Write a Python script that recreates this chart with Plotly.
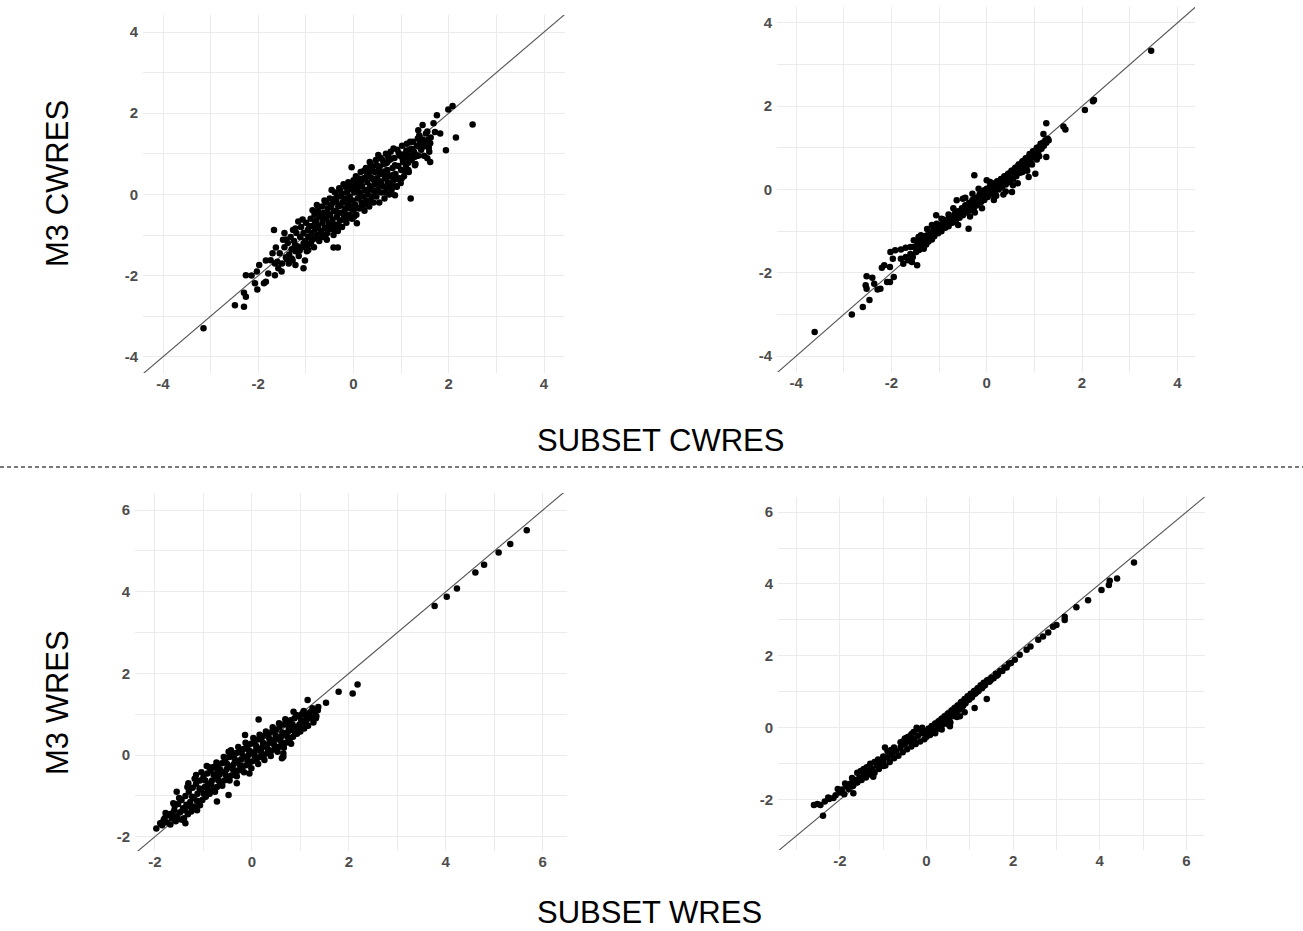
import plotly.graph_objects as go

# ---- data: (SUBSET residual, M3 residual) pairs per panel ----
cwres_left = [
    (-3.15, -3.30), (-2.49, -2.73), (-2.30, -2.77), (-2.26, -2.52), (-2.30, -2.42),
    (-2.02, -2.34), (-2.07, -2.19), (-2.26, -1.99), (-2.14, -2.00), (-2.03, -1.90),
    (-1.88, -2.19), (-1.84, -2.15), (-1.79, -1.95), (-1.98, -1.74), (-1.84, -1.63),
    (-1.74, -1.62), (-1.65, -1.99), (-1.58, -1.82), (-1.51, -1.90), (-1.60, -1.66),
    (-1.67, -0.88), (-1.63, -1.31), (-1.42, -1.11), (-1.40, -1.60), (-1.30, -1.58),
    (-1.22, -1.74), (-1.05, -1.82), (-1.02, -1.63), (-1.22, -0.84), (-1.16, -0.67),
    (-1.23, -1.25), (-1.05, -1.21), (-0.95, -1.37), (-0.86, -0.39), (-0.77, -0.26),
    (-0.70, -0.47), (-0.42, -1.31), (-0.33, -1.31), (-0.70, -1.04), (-0.56, -1.12),
    (-0.46, 0.11), (-0.28, 0.11), (-0.04, 0.67), (0.07, -0.71), (0.10, 0.23),
    (0.34, 0.80), (0.52, 0.97), (0.55, 0.68), (0.73, 0.93), (0.84, 1.13),
    (0.80, 0.11), (0.91, 0.19), (0.87, -0.02), (1.01, 0.39), (1.15, 0.60),
    (1.20, -0.10), (1.19, 1.30), (1.29, 0.93), (1.29, 0.72), (1.36, 1.58),
    (1.45, 1.71), (1.52, 1.50), (1.55, 0.89), (1.61, 0.80), (1.59, 1.05),
    (1.68, 1.75), (1.71, 1.54), (1.75, 1.95), (1.82, 1.50), (1.94, 1.09),
    (1.99, 2.09), (2.08, 2.18), (2.15, 1.40), (2.50, 1.72), (1.50, 1.30),
    (1.39, 1.17), (1.61, 1.26),
    (-1.55, -1.45), (-1.50, -1.70), (-1.45, -1.30), (-1.42, -1.55), (-1.38, -1.20),
    (-1.35, -1.48), (-1.32, -1.05), (-1.30, -1.35), (-1.28, -1.62), (-1.25, -1.15),
    (-1.22, -1.40), (-1.20, -0.95), (-1.18, -1.28), (-1.15, -1.52),
    (-1.12, -1.05), (-1.10, -0.80), (-1.08, -1.30), (-1.05, -0.95), (-1.02, -1.15),
    (-1.00, -0.70), (-0.98, -1.40), (-0.96, -0.88), (-0.95, -1.05), (-0.92, -1.22),
    (-0.90, -0.60), (-0.88, -0.95), (-0.86, -0.78), (-0.85, -1.10), (-0.83, -1.30),
    (-0.82, -0.50), (-0.80, -0.85),
    (-0.78, -0.65), (-0.77, -1.00), (-0.75, -0.40), (-0.74, -0.78), (-0.72, -1.15),
    (-0.70, -0.55), (-0.68, -0.90), (-0.66, -0.30), (-0.65, -0.70), (-0.63, -1.05),
    (-0.62, -0.45), (-0.60, -0.82), (-0.58, -0.20), (-0.57, -0.60), (-0.55, -0.95),
    (-0.54, -0.35), (-0.52, -0.72), (-0.50, -0.10), (-0.49, -0.50), (-0.47, -0.85),
    (-0.46, -0.25), (-0.44, -0.62), (-0.42, -1.00), (-0.41, -0.40),
    (-0.39, 0.05), (-0.38, -0.75), (-0.36, -0.18), (-0.35, -0.55), (-0.33, -0.90),
    (-0.32, -0.30), (-0.30, 0.15), (-0.29, -0.65), (-0.27, -0.05), (-0.26, -0.45),
    (-0.24, -0.80), (-0.23, -0.20), (-0.21, 0.25), (-0.20, -0.55), (-0.18, -0.10),
    (-0.17, -0.35), (-0.15, -0.70), (-0.14, 0.05), (-0.12, -0.25), (-0.11, 0.30),
    (-0.09, -0.50), (-0.08, -0.05), (-0.06, -0.35), (-0.05, 0.15), (-0.03, -0.60),
    (-0.02, -0.15), (0.00, 0.35), (0.00, -0.40),
    (0.02, 0.05), (0.03, -0.25), (0.05, 0.45), (0.06, -0.50), (0.08, 0.15),
    (0.09, -0.10), (0.11, 0.30), (0.12, -0.35), (0.14, 0.05), (0.15, 0.55),
    (0.17, -0.20), (0.18, 0.20), (0.20, -0.05), (0.21, 0.40), (0.23, -0.40),
    (0.24, 0.10), (0.26, 0.65), (0.27, -0.15), (0.29, 0.30), (0.30, 0.00),
    (0.32, 0.50), (0.33, -0.30), (0.35, 0.20), (0.36, 0.75), (0.38, -0.05),
    (0.39, 0.40),
    (0.41, 0.10), (0.42, -0.20), (0.44, 0.55), (0.45, 0.25), (0.47, 0.85),
    (0.48, -0.05), (0.50, 0.40), (0.51, 0.10), (0.53, 0.65), (0.54, -0.20),
    (0.56, 0.30), (0.57, 0.90), (0.59, 0.05), (0.60, 0.50), (0.62, 0.20),
    (0.63, 0.75), (0.65, -0.10), (0.66, 0.40), (0.68, 1.00), (0.69, 0.15),
    (0.71, 0.60), (0.72, 0.30), (0.74, 0.85), (0.75, 0.00), (0.77, 0.45),
    (0.78, 1.05), (0.80, 0.25),
    (0.82, 0.65), (0.84, 0.35), (0.86, 0.90), (0.88, 0.50), (0.90, 0.20),
    (0.92, 1.10), (0.94, 0.70), (0.96, 0.40), (0.98, 0.95), (1.00, 0.60),
    (1.02, 1.20), (1.04, 0.80), (1.06, 0.45), (1.08, 1.00), (1.10, 0.70),
    (1.12, 1.25), (1.14, 0.90), (1.16, 0.55), (1.18, 1.10),
    (1.22, 0.85), (1.25, 1.30), (1.27, 1.05), (1.30, 0.75), (1.33, 1.20),
    (1.36, 0.95), (1.38, 1.45), (1.42, 1.10), (1.45, 1.35), (1.48, 0.95),
    (1.52, 1.25), (1.55, 1.55), (1.58, 1.15), (1.62, 1.40),
    (-1.48, -1.12), (-1.36, -1.70), (-1.27, -0.88), (-1.13, -1.38), (-1.07, -0.62),
    (-0.99, -1.25), (-0.93, -0.78), (-0.89, -1.18), (-0.81, -0.68), (-0.79, -1.08),
    (-0.73, -0.52), (-0.69, -0.97), (-0.64, -0.58), (-0.61, -0.15), (-0.59, -1.02),
    (-0.53, -0.48), (-0.51, -0.82), (-0.48, -0.30), (-0.45, -0.70), (-0.43, -0.12),
    (-0.40, -0.88), (-0.37, -0.42), (-0.34, -0.05), (-0.31, -0.78), (-0.28, -0.28),
    (-0.25, 0.02), (-0.22, -0.62), (-0.19, -0.42), (-0.16, 0.18), (-0.13, -0.58),
    (-0.10, -0.12), (-0.07, 0.22), (-0.04, -0.30), (-0.01, 0.10), (0.01, -0.55),
    (0.04, 0.25), (0.07, -0.32), (0.10, 0.40), (0.13, -0.05), (0.16, 0.32),
    (0.19, -0.28), (0.22, 0.58), (0.25, -0.25), (0.28, 0.45), (0.31, 0.12),
    (0.34, 0.62), (0.37, -0.18), (0.40, 0.68), (0.43, 0.35), (0.46, 0.02),
    (0.49, 0.72), (0.52, 0.22), (0.55, 0.52), (0.58, 0.32), (0.61, 0.85),
    (0.64, 0.55), (0.67, 0.05), (0.70, 0.78), (0.73, 0.48), (0.76, 0.18),
    (0.79, 0.88), (0.83, 0.48), (0.87, 0.72), (0.91, 0.38), (0.95, 1.02),
    (0.99, 0.28), (1.03, 0.88), (1.07, 0.58), (1.11, 1.08), (1.15, 0.78),
    (1.19, 0.95), (1.23, 1.12), (1.31, 0.98), (1.40, 1.28), (1.47, 1.18),
    (1.35, 1.38), (1.57, 1.35), (-1.70, -1.45), (-1.65, -1.70), (-1.45, -0.95),
]

cwres_right = [
    (3.45, 3.33), (2.23, 2.12), (2.25, 2.15), (2.06, 1.91), (1.61, 1.51),
    (1.65, 1.44), (1.25, 1.59), (1.19, 1.33), (1.25, 0.78), (1.02, 0.38),
    (0.88, 0.30), (0.77, 0.46), (0.53, -0.06), (-0.26, 0.34), (-0.38, -0.94),
    (-0.63, -0.26), (-0.50, -0.22), (-1.06, -0.62), (-1.05, -0.82), (-0.91, -0.72),
    (-1.11, -0.94), (-1.43, -1.14), (-1.32, -1.12), (-1.60, -1.38), (-1.92, -1.46),
    (-1.80, -1.44), (-1.97, -1.66), (-2.20, -1.88), (-2.03, -1.86), (-1.95, -2.10),
    (-2.09, -2.22), (-2.03, -2.22), (-2.52, -2.08), (-2.40, -2.12), (-2.54, -2.30),
    (-2.52, -2.38), (-2.36, -2.26), (-2.29, -2.40), (-2.23, -2.38), (-2.46, -2.65),
    (-2.60, -2.82), (-2.83, -3.00), (-3.61, -3.42), (-1.80, -1.66), (-1.57, -1.74),
    (-1.46, -1.82), (-1.53, -1.22), (-2.02, -1.50),
    (-1.75, -1.78), (-1.70, -1.62), (-1.65, -1.70), (-1.60, -1.55), (-1.55, -1.62),
    (-1.52, -1.38), (-1.48, -1.50), (-1.45, -1.30), (-1.42, -1.45), (-1.40, -1.22),
    (-1.37, -1.38), (-1.35, -1.28), (-1.32, -1.42), (-1.30, -1.18), (-1.27, -1.32),
    (-1.25, -1.10), (-1.22, -1.25), (-1.20, -1.15), (-1.17, -1.05), (-1.15, -1.20),
    (-1.12, -0.98), (-1.10, -1.12), (-1.07, -1.02), (-1.05, -0.90), (-1.02, -1.05),
    (-1.00, -0.95), (-0.97, -0.85), (-0.95, -1.00), (-0.92, -0.88), (-0.90, -0.78),
    (-0.87, -0.92), (-0.85, -0.80), (-0.82, -0.72), (-0.80, -0.88), (-0.77, -0.75),
    (-0.75, -0.65), (-0.72, -0.80), (-0.70, -0.68), (-0.67, -0.58), (-0.65, -0.75),
    (-0.62, -0.62), (-0.60, -0.52), (-0.57, -0.68), (-0.55, -0.55), (-0.52, -0.45),
    (-0.50, -0.62), (-0.47, -0.50), (-0.45, -0.38), (-0.42, -0.55), (-0.40, -0.42),
    (-0.37, -0.32), (-0.35, -0.50), (-0.32, -0.38), (-0.30, -0.25), (-0.27, -0.45),
    (-0.25, -0.30), (-0.22, -0.20), (-0.20, -0.38), (-0.17, -0.25), (-0.15, -0.12),
    (-0.12, -0.30), (-0.10, -0.18), (-0.07, -0.05), (-0.05, -0.25), (-0.02, -0.12),
    (0.00, 0.02), (0.02, -0.18), (0.05, -0.05), (0.07, 0.08), (0.10, -0.12),
    (0.12, 0.02), (0.15, 0.12), (0.17, -0.05), (0.20, 0.08), (0.22, 0.20),
    (0.25, 0.00), (0.27, 0.15), (0.30, 0.25), (0.32, 0.05), (0.35, 0.20),
    (0.37, 0.32), (0.40, 0.12), (0.42, 0.28), (0.45, 0.38), (0.47, 0.18),
    (0.50, 0.35), (0.52, 0.45), (0.55, 0.25), (0.57, 0.42), (0.60, 0.52),
    (0.62, 0.32), (0.65, 0.50), (0.67, 0.60), (0.70, 0.40), (0.72, 0.58),
    (0.75, 0.68), (0.77, 0.50), (0.80, 0.65), (0.82, 0.75), (0.85, 0.58),
    (0.87, 0.72), (0.90, 0.85), (0.92, 0.68), (0.95, 0.82), (0.97, 0.92),
    (1.00, 0.78), (1.02, 0.90), (1.05, 1.00), (1.08, 0.88), (1.10, 1.02),
    (1.13, 1.10), (1.15, 0.98), (1.18, 1.12), (1.20, 1.05), (1.23, 1.18),
    (1.25, 1.12), (1.28, 1.22), (1.30, 1.18),
    (0.00, 0.22), (0.07, 0.18), (-0.17, 0.02), (-0.45, -0.20), (-0.30, -0.10),
    (0.20, -0.15), (0.40, -0.05), (0.55, 0.10), (0.65, 0.15), (0.85, 0.45),
    (0.95, 0.60), (1.10, 0.80), (-0.10, -0.45), (-0.25, -0.55), (-0.60, -0.85),
    (-1.25, -0.95), (-1.15, -0.85), (-0.95, -0.70), (-1.38, -1.10), (-1.70, -1.40),
    (-2.15, -1.82), (-0.80, -0.60), (0.30, 0.10), (0.60, 0.38), (0.90, 0.62),
    (1.05, 0.72), (0.45, 0.22), (0.75, 0.42), (-0.05, -0.02), (0.12, 0.15),
    (-0.70, -0.45), (-0.35, -0.65), (0.15, -0.25), (0.35, -0.12),
]

wres_left = [
    (5.67, 5.51), (5.33, 5.17), (5.09, 4.96), (4.79, 4.66), (4.61, 4.47),
    (4.23, 4.08), (4.02, 3.88), (3.77, 3.65), (2.18, 1.73), (2.08, 1.51),
    (1.79, 1.55), (1.53, 1.28), (1.15, 1.35), (1.37, 1.18), (1.32, 0.90),
    (1.06, 1.04), (0.86, 1.06), (0.14, 0.87), (0.65, -0.04), (0.79, 0.41),
    (-0.14, 0.49), (-0.48, 0.08), (-1.15, -0.49), (-1.31, -0.69), (-1.55, -0.90),
    (-1.59, -1.25), (-1.41, -1.59), (-1.37, -1.67), (-1.97, -1.80), (-1.89, -1.67),
    (-1.82, -1.59), (-1.72, -1.47), (-1.65, -1.43), (-0.93, -0.27), (-0.79, -0.29),
    (-0.71, -0.41), (-0.31, -0.69), (-0.48, -0.98), (-0.72, -1.14), (-1.13, -1.35),
    (-1.20, -1.27), (-1.07, -1.23), (-0.05, -0.45), (0.62, -0.08), (0.65, 0.04),
    (-1.85, -1.72), (-1.80, -1.55), (-1.75, -1.65), (-1.70, -1.45), (-1.65, -1.55),
    (-1.60, -1.35), (-1.55, -1.50), (-1.52, -1.20), (-1.48, -1.40), (-1.45, -1.10),
    (-1.42, -1.30), (-1.40, -1.55), (-1.37, -1.00), (-1.35, -1.22), (-1.32, -1.45),
    (-1.30, -0.90), (-1.27, -1.15), (-1.25, -1.38), (-1.22, -0.80), (-1.20, -1.05),
    (-1.17, -1.30), (-1.15, -0.70), (-1.12, -0.95), (-1.10, -1.20), (-1.07, -0.62),
    (-1.05, -0.85), (-1.02, -1.10), (-1.00, -0.55), (-0.97, -0.78), (-0.95, -1.02),
    (-0.92, -0.45), (-0.90, -0.70), (-0.87, -0.95), (-0.85, -0.38), (-0.82, -0.62),
    (-0.80, -0.85), (-0.77, -0.30), (-0.75, -0.55), (-0.72, -0.78), (-0.70, -0.25),
    (-0.67, -0.48), (-0.65, -0.70), (-0.62, -0.20), (-0.60, -0.42), (-0.57, -0.62),
    (-0.55, -0.12), (-0.52, -0.35), (-0.50, -0.55), (-0.47, -0.05), (-0.45, -0.28),
    (-0.42, -0.50), (-0.40, 0.00), (-0.37, -0.22), (-0.35, -0.45), (-0.32, 0.05),
    (-0.30, -0.15), (-0.27, -0.38), (-0.25, 0.10), (-0.22, -0.10), (-0.20, -0.32),
    (-0.17, 0.15), (-0.15, -0.05), (-0.12, -0.25), (-0.10, 0.22), (-0.07, 0.00),
    (-0.05, -0.20), (-0.02, 0.28), (0.00, 0.05), (0.02, -0.15), (0.05, 0.32),
    (0.07, 0.10), (0.10, -0.10), (0.12, 0.38), (0.15, 0.15), (0.17, -0.05),
    (0.20, 0.42), (0.22, 0.20), (0.25, 0.00), (0.27, 0.48), (0.30, 0.25),
    (0.32, 0.05), (0.35, 0.52), (0.37, 0.30), (0.40, 0.10), (0.42, 0.58),
    (0.45, 0.35), (0.47, 0.15), (0.50, 0.62), (0.52, 0.40), (0.55, 0.20),
    (0.57, 0.68), (0.60, 0.45), (0.62, 0.25), (0.65, 0.75), (0.67, 0.52),
    (0.70, 0.30), (0.72, 0.80), (0.75, 0.58), (0.77, 0.38), (0.80, 0.85),
    (0.82, 0.62), (0.85, 0.45), (0.88, 0.90), (0.90, 0.68), (0.93, 0.52),
    (0.95, 0.95), (0.98, 0.75), (1.00, 0.58), (1.03, 1.00), (1.05, 0.80),
    (1.08, 0.65), (1.10, 0.98), (1.13, 0.85), (1.16, 0.72), (1.20, 1.05),
    (1.23, 0.90), (1.27, 0.80), (1.30, 1.05), (1.33, 0.95), (1.36, 1.10),
    (-1.78, -1.42), (-1.68, -1.70), (-1.62, -1.18), (-1.57, -1.62), (-1.50, -1.05),
    (-1.46, -1.58), (-1.38, -1.35), (-1.33, -0.78), (-1.28, -1.25), (-1.23, -1.02),
    (-1.18, -0.58), (-1.13, -1.12), (-1.08, -0.82), (-1.04, -0.42), (-0.99, -0.95),
    (-0.96, -0.62), (-0.91, -0.85), (-0.88, -0.30), (-0.84, -0.72), (-0.79, -0.48),
    (-0.76, -0.90), (-0.73, -0.18), (-0.69, -0.62), (-0.66, -0.35), (-0.61, -0.75),
    (-0.58, -0.05), (-0.54, -0.48), (-0.51, -0.22), (-0.46, -0.62), (-0.43, 0.12),
    (-0.39, -0.35), (-0.36, -0.08), (-0.31, -0.52), (-0.28, 0.20), (-0.24, -0.25),
    (-0.21, 0.05), (-0.16, -0.42), (-0.13, 0.30), (-0.09, -0.12), (-0.06, 0.12),
    (-0.01, -0.32), (0.03, 0.42), (0.06, -0.02), (0.09, 0.22), (0.13, -0.22),
    (0.16, 0.50), (0.19, 0.08), (0.23, 0.30), (0.26, -0.12), (0.29, 0.58),
    (0.33, 0.15), (0.36, 0.40), (0.39, -0.02), (0.43, 0.68), (0.46, 0.25),
    (0.49, 0.48), (0.53, 0.08), (0.56, 0.78), (0.59, 0.35), (0.63, 0.55),
    (0.66, 0.18), (0.69, 0.88), (0.73, 0.45), (0.76, 0.68), (0.81, 0.28),
    (0.84, 0.75), (0.89, 0.55), (0.92, 0.98), (0.97, 0.65), (1.02, 0.85),
    (1.07, 1.08), (1.12, 0.72), (1.18, 0.92), (1.25, 1.15), (1.29, 0.92),
]

wres_right = [
    (4.79, 4.60), (4.40, 4.15), (4.23, 4.09), (4.21, 3.97), (4.04, 3.83),
    (3.73, 3.55), (3.46, 3.35), (3.19, 3.09), (3.19, 3.00), (3.00, 2.86),
    (2.92, 2.81), (2.81, 2.65), (2.69, 2.54), (2.58, 2.45), (2.40, 2.26),
    (2.31, 2.17), (2.15, 2.03), (2.04, 1.89), (1.39, 0.80), (1.11, 0.55),
    (0.88, 0.43), (0.77, 0.32), (0.54, 0.04), (-2.60, -2.15), (-2.52, -2.12),
    (-2.39, -2.45), (-1.69, -1.82), (-2.27, -1.94), (-0.23, 0.00), (-0.46, -0.28),
    (-0.96, -0.55), (-1.00, -1.06), (-1.23, -1.36),
    (-2.45, -2.15), (-2.35, -2.05), (-2.25, -1.98), (-2.15, -1.95), (-2.10, -1.88),
    (-2.00, -1.80), (-1.95, -1.72), (-1.90, -1.85), (-1.85, -1.62), (-1.80, -1.70),
    (-1.75, -1.55), (-1.70, -1.62), (-1.65, -1.45), (-1.60, -1.52), (-1.55, -1.38),
    (-1.50, -1.45), (-1.45, -1.30), (-1.40, -1.38), (-1.35, -1.22), (-1.30, -1.30),
    (-1.25, -1.15), (-1.20, -1.25), (-1.15, -1.05), (-1.10, -1.15), (-1.05, -0.98),
    (-1.00, -0.92), (-0.95, -1.05), (-0.90, -0.82), (-0.85, -0.95), (-0.80, -0.75),
    (-0.75, -0.85), (-0.70, -0.65), (-0.65, -0.78), (-0.60, -0.55), (-0.55, -0.68),
    (-0.50, -0.45), (-0.45, -0.60), (-0.40, -0.38), (-0.35, -0.52), (-0.30, -0.30),
    (-0.25, -0.45), (-0.20, -0.22), (-0.15, -0.38), (-0.10, -0.15), (-0.05, -0.32),
    (0.00, -0.08), (0.00, -0.25), (0.05, -0.02), (0.08, -0.20), (0.12, 0.05),
    (0.15, -0.12), (0.20, 0.12), (0.22, -0.05), (0.28, 0.18), (0.30, 0.02),
    (0.35, 0.25), (0.38, 0.10), (0.42, 0.32), (0.45, 0.18), (0.50, 0.40),
    (0.52, 0.25), (0.58, 0.48), (0.60, 0.32), (0.65, 0.55), (0.68, 0.42),
    (0.72, 0.62), (0.75, 0.50), (0.80, 0.72), (0.82, 0.58), (0.88, 0.80),
    (0.90, 0.68), (0.95, 0.88), (0.98, 0.78), (1.02, 0.95), (1.05, 0.85),
    (1.10, 1.02), (1.12, 0.95), (1.18, 1.10), (1.20, 1.02), (1.25, 1.18),
    (1.28, 1.10), (1.32, 1.25), (1.35, 1.18), (1.40, 1.32), (1.45, 1.28),
    (1.50, 1.40), (1.55, 1.38), (1.60, 1.50), (1.65, 1.48), (1.70, 1.58),
    (1.75, 1.58), (1.80, 1.68), (1.85, 1.68), (1.90, 1.78), (1.95, 1.80),
    (-1.60, -1.25), (-1.45, -1.15), (-1.30, -1.00), (-1.20, -0.95), (-1.00, -0.80),
    (-0.90, -0.65), (-0.75, -0.55), (-0.60, -0.40), (-0.50, -0.30), (-0.35, -0.18),
    (-0.20, -0.05), (-0.10, 0.00), (-0.30, -0.12),
    (0.20, -0.15), (0.35, -0.05), (0.50, 0.10), (0.55, 0.15), (0.70, 0.30),
    (-2.05, -1.70), (-1.88, -1.55), (-1.72, -1.40), (-1.52, -1.20), (-1.38, -1.10),
    (-1.12, -0.88), (-0.82, -0.62), (-0.55, -0.38), (-0.42, -0.25), (-0.28, -0.38),
    (0.10, -0.10), (0.25, 0.05), (0.40, 0.20), (0.62, 0.40), (0.85, 0.62),
    (1.00, 0.82), (1.15, 0.98), (1.30, 1.15), (1.48, 1.32), (1.62, 1.45),
]

tick_vals_cw = [-4, -2, 0, 2, 4]
tick_vals_w = [-2, 0, 2, 4, 6]

# ---- panel geometry (pixels on a 1303 x 931 canvas) and axis ranges ----
W, H = 1303, 931
panels = [
    # data, (x0, x1, ytop, ybottom) in px, xrange, yrange, xticks, yticks
    (cwres_left, (143, 565, 15, 373), [-4.42, 4.44], [-4.40, 4.42], tick_vals_cw, tick_vals_cw),
    (cwres_right, (777, 1195, 7, 372), [-4.40, 4.37], [-4.38, 4.38], tick_vals_cw, tick_vals_cw),
    (wres_left, (135, 567, 493, 851), [-2.41, 6.50], [-2.35, 6.42], tick_vals_w, tick_vals_w),
    (wres_right, (778, 1205, 497, 850), [-3.43, 6.43], [-3.40, 6.42], tick_vals_w, tick_vals_w),
]

GRID = "#ebebeb"
TICK_FONT = dict(family="Liberation Sans, Arial, sans-serif", size=15,
                 color="#4d4d4d", weight="bold")

fig = go.Figure()
layout = {}
for i, (pts, (px0, px1, pyt, pyb), xr, yr, xt, yt) in enumerate(panels, start=1):
    sfx = "" if i == 1 else str(i)
    xs = [p[0] for p in pts]
    ys = [p[1] for p in pts]
    # identity reference line, clipped to the panel
    fig.add_trace(go.Scatter(
        x=[-10, 10], y=[-10, 10], mode="lines",
        line=dict(color="#555555", width=1.1),
        xaxis="x" + sfx, yaxis="y" + sfx, hoverinfo="skip", showlegend=False,
    ))
    fig.add_trace(go.Scatter(
        x=xs, y=ys, mode="markers",
        marker=dict(color="black", size=6.5, line=dict(width=0)),
        xaxis="x" + sfx, yaxis="y" + sfx, showlegend=False,
    ))
    common = dict(
        showgrid=True, gridcolor=GRID, gridwidth=1, zeroline=False,
        showline=False, ticks="", tickfont=TICK_FONT,
        minor=dict(dtick=1, showgrid=True, gridcolor=GRID, gridwidth=1),
        fixedrange=True,
    )
    layout["xaxis" + sfx] = dict(
        common, domain=[px0 / W, px1 / W], range=xr,
        tickmode="array", tickvals=xt, ticktext=[str(v) for v in xt],
        anchor="y" + sfx, tick0=0,
    )
    layout["yaxis" + sfx] = dict(
        common, domain=[1 - pyb / H, 1 - pyt / H], range=yr,
        tickmode="array", tickvals=yt, ticktext=[str(v) for v in yt],
        anchor="x" + sfx, tick0=0, ticklabelstandoff=4,
    )

TITLE_FONT = dict(family="Liberation Sans, Arial, sans-serif", size=31, color="black")
annotations = [
    dict(text="SUBSET CWRES", x=660 / W, y=1 - 440 / H, xref="paper", yref="paper",
         showarrow=False, font=TITLE_FONT, xanchor="center", yanchor="middle"),
    dict(text="SUBSET WRES", x=649 / W, y=1 - 912 / H, xref="paper", yref="paper",
         showarrow=False, font=TITLE_FONT, xanchor="center", yanchor="middle"),
    dict(text="M3 CWRES", x=57 / W, y=1 - 184 / H, xref="paper", yref="paper",
         showarrow=False, font=TITLE_FONT, textangle=-90, xanchor="center", yanchor="middle"),
    dict(text="M3 WRES", x=57 / W, y=1 - 703 / H, xref="paper", yref="paper",
         showarrow=False, font=TITLE_FONT, textangle=-90, xanchor="center", yanchor="middle"),
]

shapes = [
    dict(type="line", xref="paper", yref="paper", x0=0, x1=1,
         y0=1 - 467 / H, y1=1 - 467 / H,
         line=dict(color="#4d4d4d", width=1.3, dash="4px,3px")),
]

fig.update_layout(
    width=W, height=H, margin=dict(l=0, r=0, t=0, b=0),
    paper_bgcolor="white", plot_bgcolor="white",
    annotations=annotations, shapes=shapes, showlegend=False,
    **layout,
)

fig.write_html("out.html", config={"displayModeBar": False})
